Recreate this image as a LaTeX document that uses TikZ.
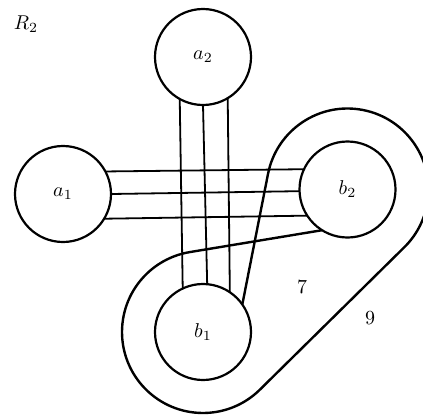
\documentclass[tikz,border=0pt]{standalone}
\usetikzlibrary{calc}
\begin{document}
\begin{tikzpicture}[
    x=0.5pt, y=0.5pt,
    vertex/.style={
      draw,
      circle,
      line width=1.1pt,
      minimum size=48pt,
      inner sep=0pt,
      outer sep=0pt
    },
    strand/.style={line width=0.9pt},
    band/.style={line width=1.2pt, line join=round}
  ]
    \clip (0,0) rectangle (423,414);

    \node[vertex] (a2) at (203,357) {$a_2$};
    \node[vertex] (a1) at (63,220) {$a_1$};
    \node[vertex] (b2) at (347.5,224.5) {$b_2$};
    \node[vertex] (b1) at (203,82) {$b_1$};

    \node (r2) at (26,390) {$R_2$};
    \node (seven) at (302,127) {7};
    \node (nine) at (370,96) {9};

    % a_1 -- b_2
    \draw[strand] (a1.28) -- (b2.155);
    \draw[strand] (a1.0) -- (b2.182);
    \draw[strand] (a1.329) -- (b2.213);
    % a_2 -- b_1
    \draw[strand] (a2.241) -- (b1.115);
    \draw[strand] (a2.270) -- (b1.85);
    \draw[strand] (a2.301) -- (b1.56);

    % band round b_2 and b_1
    \draw[band] (b1.35) -- ($(b2)+(168.8:81)$)
      arc[start angle=168.8, end angle=-45.4, radius=81]
      -- ($(b1)+(-45.4:81)$)
      arc[start angle=-45.4, end angle=-260.6, radius=81]
      -- (b2.238);
  \end{tikzpicture}
\end{document}
